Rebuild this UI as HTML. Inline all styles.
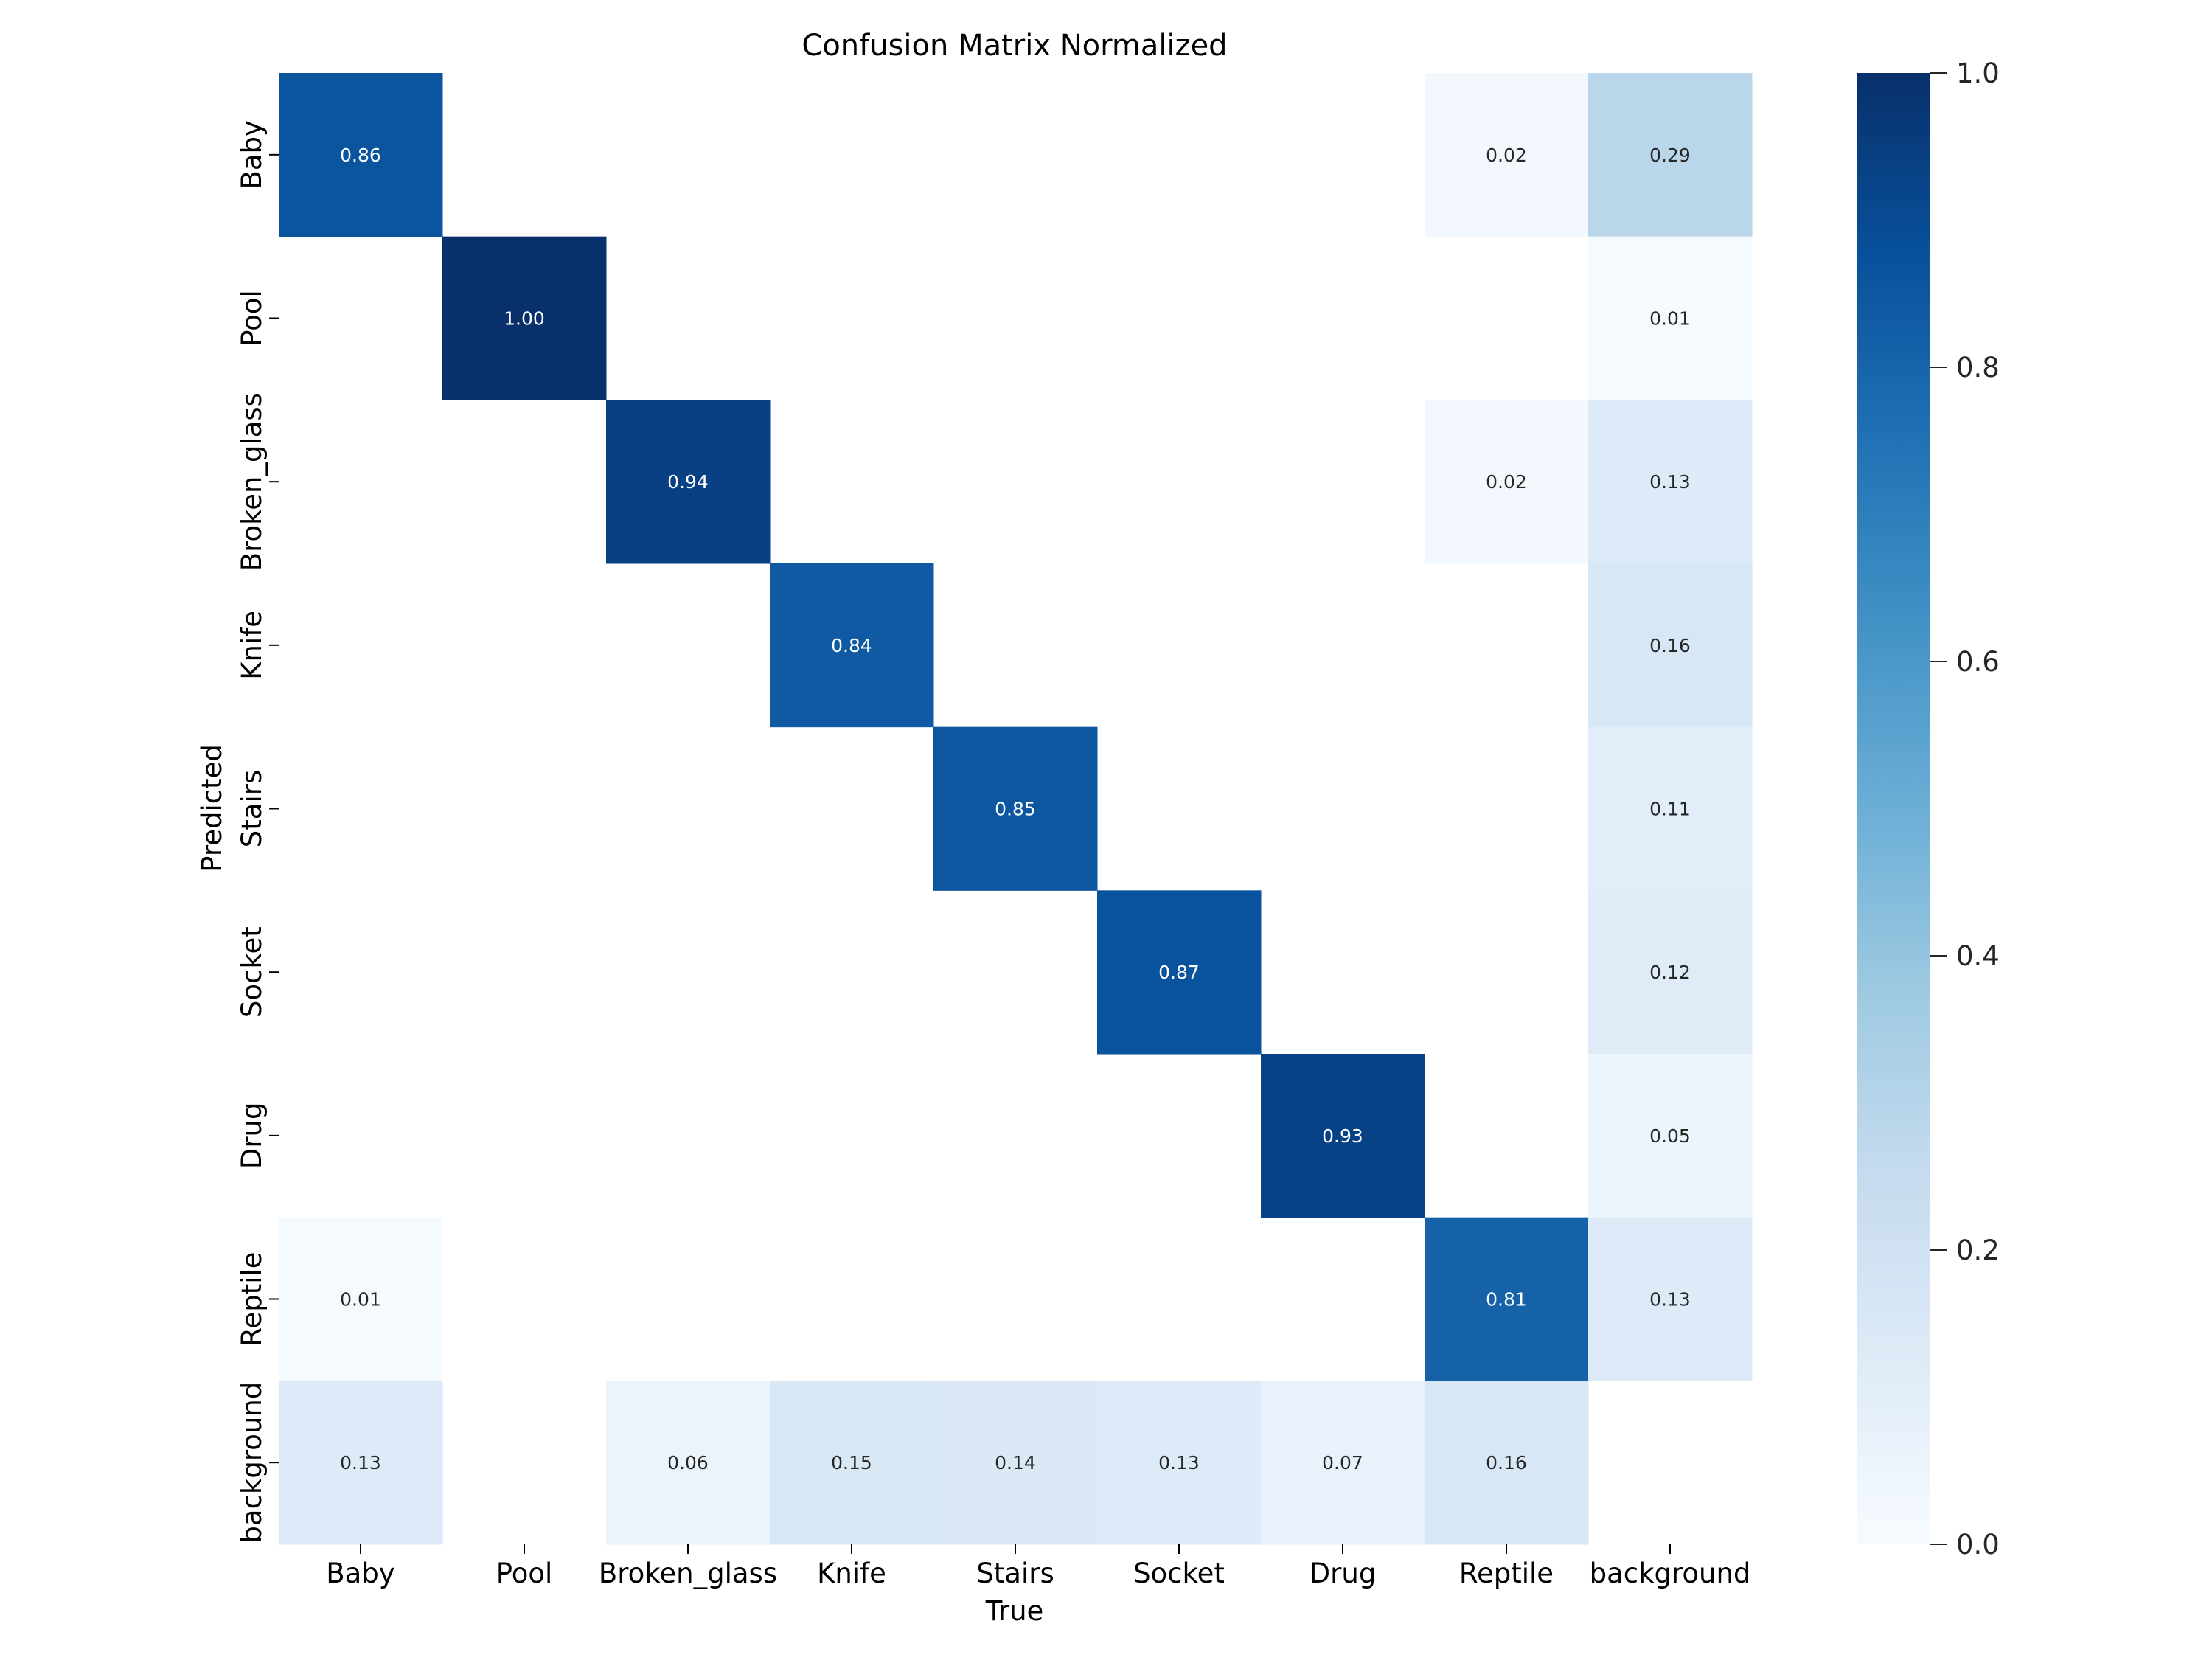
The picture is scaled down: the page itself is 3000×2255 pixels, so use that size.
<!DOCTYPE html>
<html><head><meta charset="utf-8"><style>
html,body{margin:0;padding:0;background:#fff;}
svg text{font-family:"DejaVu Sans","Liberation Sans",sans-serif;}
</style></head><body>
<svg id="chart" width="3000" height="2250" xmlns="http://www.w3.org/2000/svg">
<rect width="3000" height="2250" fill="#fff"/>
<text x="1376" y="75" font-size="40" text-anchor="middle" fill="#000">Confusion Matrix Normalized</text>
<g id="cells"></g>
<g id="axes"></g>
<text x="1376" y="2197" font-size="37" text-anchor="middle">True</text>
<text transform="translate(300,1096) rotate(-90)" font-size="37" text-anchor="middle">Predicted</text>
<defs><linearGradient id="cbg" x1="0" y1="1" x2="0" y2="0"></linearGradient></defs>
<rect x="2519" y="99" width="99" height="1995" fill="url(#cbg)"/>
<g id="cbticks"></g>
</svg>
<script>
const categories=["Baby","Pool","Broken_glass","Knife","Stairs","Socket","Drug","Reptile","background"];
const row0=[0.86,0,0,0,0,0,0,0.02,0.29];
const row1=[0,1.00,0,0,0,0,0,0,0.01];
const row2=[0,0,0.94,0,0,0,0,0.02,0.13];
const row3=[0,0,0,0.84,0,0,0,0,0.16];
const row4=[0,0,0,0,0.85,0,0,0,0.11];
const row5=[0,0,0,0,0,0.87,0,0,0.12];
const row6=[0,0,0,0,0,0,0.93,0,0.05];
const row7=[0.01,0,0,0,0,0,0,0.81,0.13];
const row8=[0.13,0,0.06,0.15,0.14,0.13,0.07,0.16,0];
const matrix=[row0,row1,row2,row3,row4,row5,row6,row7,row8];
const cbTicks=[0.0,0.2,0.4,0.6,0.8,1.0];

const NS="http://www.w3.org/2000/svg";
const L=378,T=99,W=1998,H=1995,n=categories.length,cw=W/n,ch=H/n;
const xs=i=>L+i*cw, ys=j=>T+j*ch;
const stops=["#f7fbff","#deebf7","#c6dbef","#9ecae1","#6baed6","#4292c6","#2171b5","#08519c","#08306b"];
function hex(h){return [1,3,5].map(k=>parseInt(h.substr(k,2),16));}
function blues(v){v=Math.max(0,Math.min(1,v));const p=v*8,i=Math.min(7,Math.floor(p)),f=p-i;
 const a=hex(stops[i]),b=hex(stops[i+1]);return "rgb("+a.map((c,k)=>Math.round(c+(b[k]-c)*f)).join(",")+")";}
function mk(tag,attrs,parent){const e=document.createElementNS(NS,tag);for(const k in attrs)e.setAttribute(k,attrs[k]);parent.appendChild(e);return e;}
const cells=document.getElementById('cells');
matrix.forEach((row,j)=>row.forEach((v,i)=>{
 if(v<=0)return;
 const r=mk('rect',{x:xs(i),y:ys(j),width:cw+0.5,height:ch+0.5,fill:blues(v)},cells);
 
 
 const t=mk('text',{x:xs(i)+cw/2,y:ys(j)+ch/2+9,'font-size':'25','text-anchor':'middle',fill:v>0.5?'#fff':'#262626'},cells);
 
 
 t.textContent=v.toFixed(2);
}));
const axes=document.getElementById('axes');
categories.forEach((c,i)=>{
 const cx=xs(i)+cw/2;
 mk('line',{x1:cx,y1:T+H,x2:cx,y2:T+H+13,stroke:'#000','stroke-width':2},axes);
 const t=mk('text',{x:cx,y:T+H+52,'font-size':'37','text-anchor':'middle'},axes);
 
 
 t.textContent=c;
 const cy=ys(i)+ch/2;
 mk('line',{x1:L-13,y1:cy,x2:L,y2:cy,stroke:'#000','stroke-width':2},axes);
 const u=mk('text',{transform:'translate('+(L-24)+','+cy+') rotate(-90)','font-size':'37','text-anchor':'middle'},axes);
 
 
 u.textContent=c;
});
const g=document.getElementById('cbg');
stops.forEach((s,k)=>mk('stop',{offset:(k/8),'stop-color':s},g));
const cbt=document.getElementById('cbticks');
cbTicks.forEach(v=>{
 const y=T+H-v*H;
 mk('line',{x1:2618,y1:y,x2:2640,y2:y,stroke:'#262626','stroke-width':2},cbt);
 const t=mk('text',{x:2653,y:y+13,'font-size':'37',fill:'#262626'},cbt);
 
 
 t.textContent=v.toFixed(1);
});
</script>
</body></html>
